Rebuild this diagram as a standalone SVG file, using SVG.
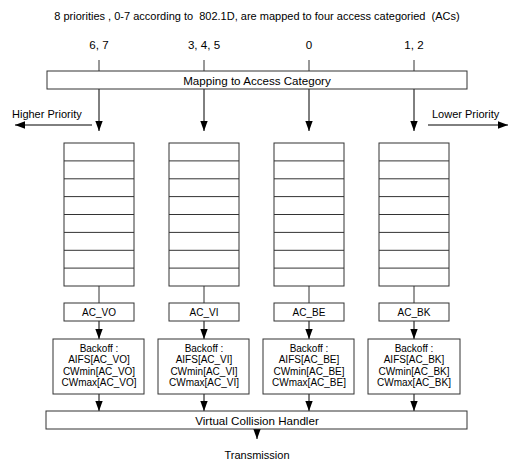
<svg xmlns="http://www.w3.org/2000/svg" width="510" height="462" viewBox="0 0 510 462">
<defs>
<marker id="ah" markerUnits="userSpaceOnUse" markerWidth="12" markerHeight="12" viewBox="0 0 12 12" refX="10" refY="6" orient="auto">
<path d="M0,2.3 L10,6 L0,9.7 Z" fill="#000"/>
</marker>
<style>
text{font-family:"Liberation Sans",Arial,sans-serif;fill:#000;white-space:pre}
.t11{font-size:11px}
.t12{font-size:11.6px}
.t10{font-size:10px}
.box{fill:#fff;stroke:#333;stroke-width:1}
.ln{stroke:#333;stroke-width:1;fill:none}
.ar{stroke:#000;stroke-width:1;fill:none;marker-end:url(#ah)}
</style>
</defs>
<rect width="510" height="462" fill="#fff"/>
<text class="t11" x="257" y="20" text-anchor="middle">8 priorities , 0-7 according to  802.1D, are mapped to four access categoried  (ACs)</text>
<g id="prio-labels" class="t12">
<text class="t12" x="99" y="48.5" text-anchor="middle">6, 7</text>
<text class="t12" x="204" y="48.5" text-anchor="middle">3, 4, 5</text>
<text class="t12" x="309" y="48.5" text-anchor="middle">0</text>
<text class="t12" x="414" y="48.5" text-anchor="middle">1, 2</text>
</g>
<g id="connectors">
<path class="ln" d="M99,60V71M204,60V71M309,60V71M414,60V71"/>
<path class="ar" d="M99,89V131"/>
<path class="ar" d="M204,89V131"/>
<path class="ar" d="M309,89V131"/>
<path class="ar" d="M414,89V131"/>
<path class="ar" d="M92,125H15"/>
<path class="ar" d="M428,125H508"/>
<path class="ln" d="M99,286V303M204,286V303M309,286V303M414,286V303"/>
<path class="ar" d="M99,321V339"/>
<path class="ar" d="M204,321V339"/>
<path class="ar" d="M309,321V339"/>
<path class="ar" d="M414,321V339"/>
<path class="ar" d="M99,394V411"/>
<path class="ar" d="M204,394V411"/>
<path class="ar" d="M309,394V411"/>
<path class="ar" d="M414,394V411"/>
<path class="ar" d="M257,429V439"/>
</g>
<g id="mapping">
<rect class="box" x="47" y="71" width="420" height="18"/>
<text class="t12" x="257" y="84.5" text-anchor="middle">Mapping to Access Category</text>
</g>
<text class="t11" x="12" y="118">Higher Priority</text>
<text class="t11" x="432" y="118">Lower Priority</text>
<g id="queue-vo">
<rect class="box" x="64" y="143" width="70" height="143"/>
<path class="ln" d="M64,160.9H134M64,178.8H134M64,196.6H134M64,214.5H134M64,232.4H134M64,250.3H134M64,268.1H134"/>
</g>
<g id="queue-vi">
<rect class="box" x="169" y="143" width="70" height="143"/>
<path class="ln" d="M169,160.9H239M169,178.8H239M169,196.6H239M169,214.5H239M169,232.4H239M169,250.3H239M169,268.1H239"/>
</g>
<g id="queue-be">
<rect class="box" x="274" y="143" width="70" height="143"/>
<path class="ln" d="M274,160.9H344M274,178.8H344M274,196.6H344M274,214.5H344M274,232.4H344M274,250.3H344M274,268.1H344"/>
</g>
<g id="queue-bk">
<rect class="box" x="379" y="143" width="70" height="143"/>
<path class="ln" d="M379,160.9H449M379,178.8H449M379,196.6H449M379,214.5H449M379,232.4H449M379,250.3H449M379,268.1H449"/>
</g>
<g id="ac-vo"><rect class="box" x="64" y="303" width="70" height="18"/><text class="t10" x="99" y="316" text-anchor="middle">AC_VO</text></g>
<g id="ac-vi"><rect class="box" x="169" y="303" width="70" height="18"/><text class="t10" x="204" y="316" text-anchor="middle">AC_VI</text></g>
<g id="ac-be"><rect class="box" x="274" y="303" width="70" height="18"/><text class="t10" x="309" y="316" text-anchor="middle">AC_BE</text></g>
<g id="ac-bk"><rect class="box" x="379" y="303" width="70" height="18"/><text class="t10" x="414" y="316" text-anchor="middle">AC_BK</text></g>
<g id="backoff-vo">
<rect class="box" x="53" y="339" width="91" height="55"/>
<text class="t10" x="99" text-anchor="middle"><tspan x="99" y="351.5">Backoff :</tspan><tspan x="99" y="363">AIFS[AC_VO]</tspan><tspan x="99" y="374.5">CWmin[AC_VO]</tspan><tspan x="99" y="386">CWmax[AC_VO]</tspan></text>
</g>
<g id="backoff-vi">
<rect class="box" x="158" y="339" width="91" height="55"/>
<text class="t10" x="204" text-anchor="middle"><tspan x="204" y="351.5">Backoff :</tspan><tspan x="204" y="363">AIFS[AC_VI]</tspan><tspan x="204" y="374.5">CWmin[AC_VI]</tspan><tspan x="204" y="386">CWmax[AC_VI]</tspan></text>
</g>
<g id="backoff-be">
<rect class="box" x="263" y="339" width="91" height="55"/>
<text class="t10" x="309" text-anchor="middle"><tspan x="309" y="351.5">Backoff :</tspan><tspan x="309" y="363">AIFS[AC_BE]</tspan><tspan x="309" y="374.5">CWmin[AC_BE]</tspan><tspan x="309" y="386">CWmax[AC_BE]</tspan></text>
</g>
<g id="backoff-bk">
<rect class="box" x="368" y="339" width="92" height="55"/>
<text class="t10" x="414" text-anchor="middle"><tspan x="414" y="351.5">Backoff :</tspan><tspan x="414" y="363">AIFS[AC_BK]</tspan><tspan x="414" y="374.5">CWmin[AC_BK]</tspan><tspan x="414" y="386">CWmax[AC_BK]</tspan></text>
</g>
<g id="vch">
<rect class="box" x="46" y="411" width="421" height="18"/>
<text class="t12" x="257" y="424.5" text-anchor="middle">Virtual Collision Handler</text>
</g>
<text class="t11" x="257" y="458.5" text-anchor="middle">Transmission</text>
</svg>
